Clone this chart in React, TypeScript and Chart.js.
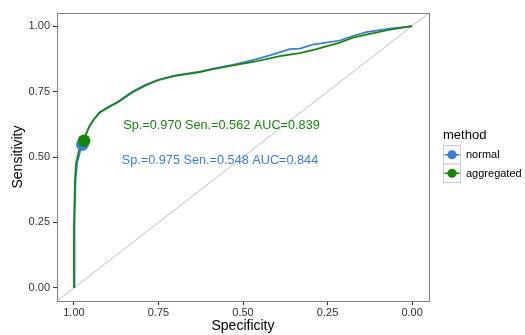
import React, { useEffect, useRef } from 'react';
import { Chart, registerables } from 'chart.js';

Chart.register(...registerables);

// ROC curve: normal method
const normalSpecificity = [0.998, 0.998, 0.995, 0.99, 0.982, 0.975, 0.968, 0.955, 0.94, 0.923, 0.9, 0.869, 0.829, 0.79, 0.751, 0.702, 0.628, 0.588, 0.53, 0.471, 0.421, 0.362, 0.332, 0.294, 0.214, 0.176, 0.135, 0.066, 0.0];
const normalSensitivity = [0.0, 0.25, 0.41, 0.48, 0.52, 0.548, 0.575, 0.615, 0.645, 0.672, 0.69, 0.712, 0.748, 0.775, 0.795, 0.811, 0.826, 0.838, 0.852, 0.87, 0.888, 0.912, 0.914, 0.929, 0.945, 0.962, 0.977, 0.99, 1.0];

// ROC curve: aggregated method
const aggregatedSpecificity = [1.0, 1.0, 0.997, 0.994, 0.985, 0.97, 0.965, 0.953, 0.94, 0.923, 0.9, 0.869, 0.829, 0.79, 0.751, 0.702, 0.628, 0.588, 0.53, 0.47, 0.391, 0.332, 0.283, 0.214, 0.175, 0.125, 0.066, 0.0];
const aggregatedSensitivity = [0.0, 0.232, 0.411, 0.476, 0.525, 0.562, 0.585, 0.621, 0.645, 0.67, 0.688, 0.71, 0.745, 0.772, 0.793, 0.81, 0.824, 0.835, 0.85, 0.863, 0.885, 0.897, 0.912, 0.937, 0.956, 0.97, 0.986, 1.0];

const methods = ['normal', 'aggregated'];
const cutoffSpecificity = [0.975, 0.97];
const cutoffSensitivity = [0.548, 0.562];
const aucValues = [0.844, 0.839];

const axisTicks = [0, 0.25, 0.5, 0.75, 1];
const axisLimits = [-0.05, 1.05];

const BLUE = '#3A7FD6';
const GREEN = '#16870A';
const FONT = '"Liberation Sans", Arial, Helvetica, sans-serif';

// label anchor positions in data coordinates (specificity, sensitivity)
const labelAnchors = [
  { x: 0.568, y: 0.485 },
  { x: 0.5635, y: 0.621 },
];

const decorPlugin = {
  id: 'decor',
  afterDraw(chart: any) {
    const { ctx, chartArea, scales } = chart;
    const colors = [BLUE, GREEN];
    ctx.save();
    // panel border
    ctx.strokeStyle = '#7F7F7F';
    ctx.lineWidth = 1;
    ctx.strokeRect(
      Math.round(chartArea.left) + 0.5,
      Math.round(chartArea.top) + 0.5,
      Math.round(chartArea.right - chartArea.left),
      Math.round(chartArea.bottom - chartArea.top)
    );

    // annotation labels
    ctx.font = `12.7px ${FONT}`;
    ctx.textAlign = 'center';
    ctx.textBaseline = 'middle';
    methods.forEach((m, i) => {
      const txt = `Sp.=${cutoffSpecificity[i].toFixed(3)} Sen.=${cutoffSensitivity[i].toFixed(3)} AUC=${aucValues[i].toFixed(3)}`;
      ctx.fillStyle = colors[i];
      ctx.fillText(txt, scales.x.getPixelForValue(labelAnchors[i].x), scales.y.getPixelForValue(labelAnchors[i].y));
    });

    // legend
    ctx.textAlign = 'left';
    ctx.fillStyle = '#000';
    ctx.font = `13px ${FONT}`;
    ctx.fillText('method', 443, 135);
    const kx = 443.5;
    const kw = 17;
    const kh = 18.5;
    methods.forEach((m, i) => {
      const ky = 145.5 + i * kh;
      ctx.fillStyle = '#fff';
      ctx.fillRect(kx, ky, kw, kh);
      ctx.strokeStyle = '#CCCCCC';
      ctx.lineWidth = 1;
      ctx.strokeRect(kx, ky, kw, kh);
      const cy = ky + kh / 2;
      ctx.strokeStyle = colors[i];
      ctx.lineWidth = 1.5;
      ctx.beginPath();
      ctx.moveTo(kx + 1, cy);
      ctx.lineTo(kx + kw - 1, cy);
      ctx.stroke();
      ctx.fillStyle = colors[i];
      ctx.beginPath();
      ctx.arc(kx + kw / 2, cy, 4.6, 0, Math.PI * 2);
      ctx.fill();
      ctx.fillStyle = '#000';
      ctx.font = `11px ${FONT}`;
      ctx.fillText(m, 466, cy + 0.5);
    });
    ctx.restore();
  },
};

export default function App() {
  const ref = useRef<HTMLCanvasElement>(null);
  useEffect(() => {
    if (!ref.current) return;
    Chart.defaults.font.family = FONT;
    const toPts = (xs: number[], ys: number[]) => xs.map((x, i) => ({ x, y: ys[i] }));
    const chart = new Chart(ref.current, {
      type: 'scatter',
      data: {
        datasets: [
          {
            label: 'aggregated cutoff',
            data: [{ x: cutoffSpecificity[1], y: cutoffSensitivity[1] }],
            backgroundColor: GREEN,
            borderWidth: 0,
            pointRadius: 6.3,
            order: 0,
          },
          {
            label: 'normal cutoff',
            data: [{ x: cutoffSpecificity[0], y: cutoffSensitivity[0] }],
            backgroundColor: BLUE,
            borderWidth: 0,
            pointRadius: 6.3,
            order: 1,
          },
          {
            label: 'aggregated',
            data: toPts(aggregatedSpecificity, aggregatedSensitivity),
            showLine: true,
            borderColor: GREEN,
            borderWidth: 1.7,
            pointRadius: 0,
            tension: 0,
            order: 2,
          },
          {
            label: 'normal',
            data: toPts(normalSpecificity, normalSensitivity),
            showLine: true,
            borderColor: BLUE,
            borderWidth: 1.7,
            pointRadius: 0,
            tension: 0,
            order: 3,
          },
          {
            label: 'chance',
            data: axisLimits.map((x) => ({ x, y: 1 - x })),
            showLine: true,
            borderColor: '#BEBEBE',
            borderWidth: 1,
            pointRadius: 0,
            order: 4,
          },
        ],
      } as any,
      options: {
        responsive: false,
        animation: false,
        layout: { padding: { left: 0, right: 96, top: 13, bottom: 0 } },
        plugins: { legend: { display: false }, tooltip: { enabled: false } },
        scales: {
          x: {
            type: 'linear',
            reverse: true,
            min: axisLimits[0],
            max: axisLimits[1],
            afterBuildTicks: (s: any) => {
              s.ticks = axisTicks.map((v) => ({ value: v }));
            },
            afterFit: (s: any) => {
              s.height = 34;
            },
            ticks: {
              callback: (v: any) => Number(v).toFixed(2),
              color: '#333',
              font: { size: 11 },
              padding: 1,
              maxRotation: 0,
              autoSkip: false,
            },
            grid: { drawOnChartArea: false, drawTicks: true, tickLength: 4, color: '#333' },
            border: { display: false },
            title: { display: true, text: 'Specificity', font: { size: 14 }, color: '#000', padding: 0 },
          },
          y: {
            type: 'linear',
            min: axisLimits[0],
            max: axisLimits[1],
            afterBuildTicks: (s: any) => {
              s.ticks = axisTicks.map((v) => ({ value: v }));
            },
            afterFit: (s: any) => {
              s.width = 57;
            },
            ticks: {
              callback: (v: any) => Number(v).toFixed(2),
              color: '#333',
              font: { size: 11 },
              padding: 3,
              autoSkip: false,
            },
            grid: { drawOnChartArea: false, drawTicks: true, tickLength: 4, color: '#333' },
            border: { display: false },
            title: { display: true, text: 'Sensitivity', font: { size: 14 }, color: '#000', padding: { top: 10, bottom: 0 } },
          },
        },
      } as any,
      plugins: [decorPlugin],
    });
    return () => chart.destroy();
  }, []);
  return (
    <div style={{ position: 'absolute', left: 0, top: 0, width: 525, height: 335, background: '#fff' }}>
      <canvas ref={ref} width={525} height={335} />
    </div>
  );
}
